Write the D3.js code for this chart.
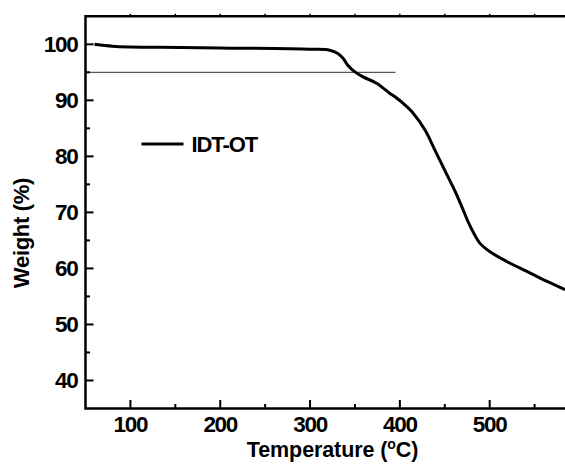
<!DOCTYPE html>
<html>
<head>
<meta charset="utf-8">
<script src="https://cdn.jsdelivr.net/npm/d3@7"></script>
<style>
  html, body { margin: 0; padding: 0; background: #fff; }
  svg { display: block; }
  text { font-family: "Liberation Sans", Arial, sans-serif; font-weight: bold; fill: #000; }
</style>
</head>
<body>
<svg id="chart" width="565" height="470"></svg>
<script>
// TGA curve of IDT-OT: temperature (°C) vs remaining weight (%)
const temperature = [60, 80, 100, 133, 200, 300, 322, 331, 337, 342, 350, 359, 374.5, 389, 394.6, 408, 413.5, 428, 439, 450.3, 461.4, 470.3, 478.1, 489, 500, 519, 541.5, 564, 584];
const weight      = [100.0, 99.66, 99.53, 99.48, 99.35, 99.12, 98.95, 98.36, 97.47, 96.27, 95.08, 94.19, 93.02, 91.23, 90.63, 88.85, 87.96, 84.70, 81.13, 77.4, 73.8, 70.5, 67.6, 64.52, 63.02, 61.24, 59.46, 57.68, 56.2];

// 5 % weight-loss reference line
const refWeight = 95;
const refRange = [50, 395];

const xTicks = [100, 200, 300, 400, 500];
const xMinorTicks = [150, 250, 350, 450, 550];
const yTicks = [40, 50, 60, 70, 80, 90, 100];
const yMinorTicks = [45, 55, 65, 75, 85, 95];
const topTicks = [100, 150, 200, 250, 300, 350, 400, 450, 500, 550];

const seriesName = "IDT-OT";
const xTitle = "Temperature (";
const yTitle = "Weight (%)";

const svg = d3.select("#chart");

const x = d3.scaleLinear().domain([50, 600]).range([85.5, 579.5]);
const y = d3.scaleLinear().domain([35, 105]).range([408.5, 16.3]);

const plotLeft = x.range()[0], plotRight = x.range()[1];
const plotTop = y.range()[1], plotBottom = y.range()[0];

// reference line
svg.append("line")
  .attr("x1", x(refRange[0])).attr("x2", x(refRange[1]))
  .attr("y1", y(refWeight)).attr("y2", y(refWeight))
  .attr("stroke", "#555").attr("stroke-width", 1.3);

// data curve
const line = d3.line()
  .x((d, i) => x(temperature[i]))
  .y((d, i) => y(weight[i]))
  .curve(d3.curveCatmullRom.alpha(0.5));

svg.append("path")
  .datum(weight)
  .attr("d", line)
  .attr("fill", "none")
  .attr("stroke", "#000")
  .attr("stroke-width", 3)
  .attr("stroke-linejoin", "round");

// frame
const axisStroke = 2.5;
svg.append("path")
  .attr("d", `M${plotRight},${plotTop}H${plotLeft}V${plotBottom}H${plotRight}`)
  .attr("fill", "none").attr("stroke", "#000").attr("stroke-width", axisStroke)
  .attr("stroke-linecap", "square");

const tickFont = 22.5, tickSpacing = -1.3;

// bottom axis: inward ticks
const gx = svg.append("g");
gx.selectAll(".maj").data(xTicks).join("line")
  .attr("x1", d => x(d)).attr("x2", d => x(d))
  .attr("y1", plotBottom).attr("y2", plotBottom - 8.5)
  .attr("stroke", "#000").attr("stroke-width", 2);
gx.selectAll(".min").data(xMinorTicks).join("line")
  .attr("x1", d => x(d)).attr("x2", d => x(d))
  .attr("y1", plotBottom).attr("y2", plotBottom - 4.5)
  .attr("stroke", "#000").attr("stroke-width", 2);
gx.selectAll("text").data(xTicks).join("text")
  .attr("x", d => x(d)).attr("y", plotBottom + 23.5)
  .attr("text-anchor", "middle")
  .attr("font-size", tickFont).attr("letter-spacing", tickSpacing)
  .text(d => d);

// top axis: small notches
svg.append("g").selectAll("line").data(topTicks).join("line")
  .attr("x1", d => x(d)).attr("x2", d => x(d))
  .attr("y1", plotTop).attr("y2", plotTop - 2.5)
  .attr("stroke", "#000").attr("stroke-width", 1.5);

// left axis: inward ticks
const gy = svg.append("g");
gy.selectAll(".maj").data(yTicks).join("line")
  .attr("x1", plotLeft).attr("x2", plotLeft + 8)
  .attr("y1", d => y(d)).attr("y2", d => y(d))
  .attr("stroke", "#000").attr("stroke-width", 2);
gy.selectAll(".min").data(yMinorTicks).join("line")
  .attr("x1", plotLeft).attr("x2", plotLeft + 4.5)
  .attr("y1", d => y(d)).attr("y2", d => y(d))
  .attr("stroke", "#000").attr("stroke-width", 2);
gy.selectAll("text").data(yTicks).join("text")
  .attr("x", plotLeft - 8).attr("y", d => y(d) + 8)
  .attr("text-anchor", "end")
  .attr("font-size", tickFont).attr("letter-spacing", tickSpacing)
  .text(d => d);

// axis titles
const xt = svg.append("text")
  .attr("x", (plotLeft + plotRight) / 2).attr("y", 456.5)
  .attr("text-anchor", "middle")
  .attr("font-size", 21.5).attr("letter-spacing", -0.1);
xt.append("tspan").text(xTitle);
xt.append("tspan").attr("font-size", 14).attr("dy", -8).text("o");
xt.append("tspan").attr("dy", 8).text("C)");

svg.append("text")
  .attr("transform", "translate(29,233) rotate(-90)")
  .attr("text-anchor", "middle")
  .attr("font-size", 22).attr("letter-spacing", -0.3)
  .text(yTitle);

// legend
svg.append("line")
  .attr("x1", 141.5).attr("x2", 183.5)
  .attr("y1", 144).attr("y2", 144)
  .attr("stroke", "#000").attr("stroke-width", 3);
svg.append("text")
  .attr("x", 191.5).attr("y", 152)
  .attr("font-size", 22).attr("letter-spacing", -1.1)
  .text(seriesName);
</script>
</body>
</html>
